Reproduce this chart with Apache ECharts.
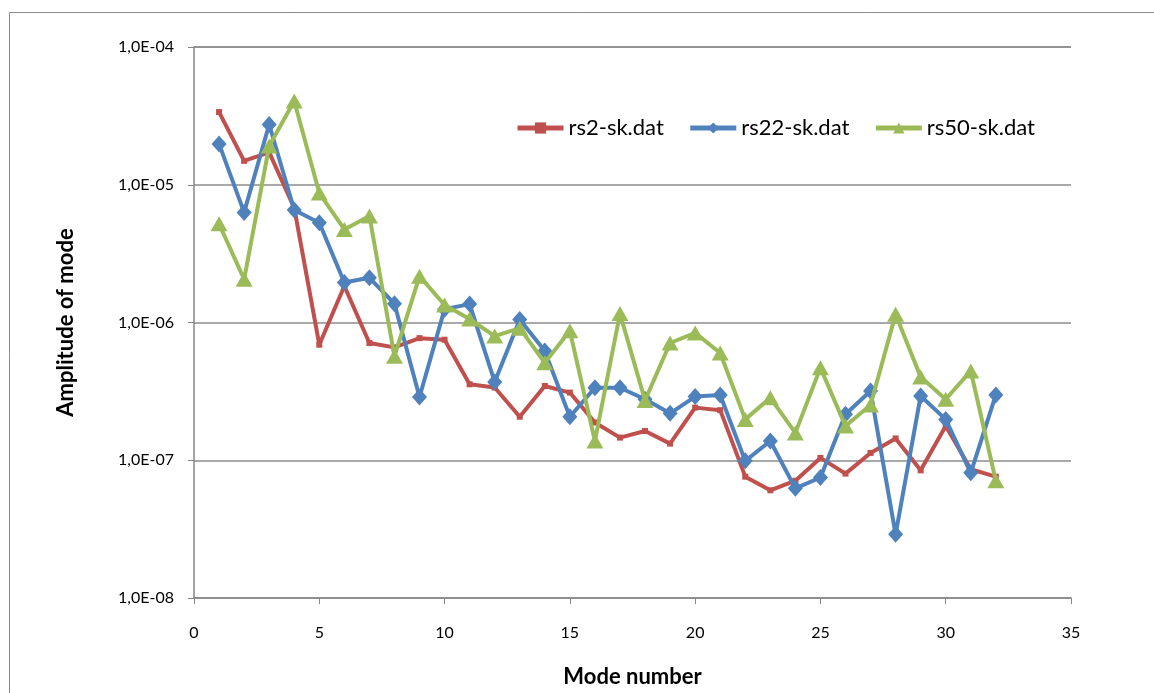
<!DOCTYPE html>
<html>
<head>
<meta charset="utf-8">
<script src="https://cdn.jsdelivr.net/npm/echarts@6/dist/echarts.min.js"></script>
<style>
html,body{margin:0;padding:0;background:#fff;}
#c{width:1154px;height:693px;}
</style>
</head>
<body>
<div id="c"></div>
<script>
const modes = [1,2,3,4,5,6,7,8,9,10,11,12,13,14,15,16,17,18,19,20,21,22,23,24,25,26,27,28,29,30,31,32];
const rs2 = [3.37e-5,1.49e-5,1.72e-5,6.8e-6,6.9e-7,1.84e-6,7.1e-7,6.6e-7,7.7e-7,7.5e-7,3.56e-7,3.37e-7,2.07e-7,3.46e-7,3.1e-7,1.88e-7,1.46e-7,1.63e-7,1.32e-7,2.41e-7,2.31e-7,7.6e-8,6.05e-8,7.1e-8,1.04e-7,8.0e-8,1.13e-7,1.44e-7,8.45e-8,1.77e-7,8.6e-8,7.6e-8];
const rs22 = [1.98e-5,6.3e-6,2.74e-5,6.55e-6,5.3e-6,1.95e-6,2.11e-6,1.37e-6,2.88e-7,1.25e-6,1.36e-6,3.7e-7,1.05e-6,6.2e-7,2.07e-7,3.36e-7,3.36e-7,2.77e-7,2.19e-7,2.9e-7,2.98e-7,9.9e-8,1.38e-7,6.25e-8,7.5e-8,2.16e-7,3.18e-7,2.9e-8,2.93e-7,1.98e-7,8.1e-8,2.98e-7];
const rs50 = [5.2e-6,2.06e-6,1.91e-5,4.05e-5,8.7e-6,4.74e-6,5.93e-6,5.7e-7,2.17e-6,1.34e-6,1.06e-6,7.97e-7,9.1e-7,5.1e-7,8.7e-7,1.38e-7,1.16e-6,2.72e-7,7.1e-7,8.4e-7,6.0e-7,1.98e-7,2.84e-7,1.58e-7,4.7e-7,1.77e-7,2.52e-7,1.15e-6,4.02e-7,2.77e-7,4.45e-7,7.1e-8];
const seriesNames = ['rs2-sk.dat','rs22-sk.dat','rs50-sk.dat'];
const xTicks = [0,5,10,15,20,25,30,35];

const pair = arr => modes.map((m,i)=>[m,arr[i]]);
const font = 'Lato, "Open Sans", sans-serif';
const chart = echarts.init(document.getElementById('c'), null, {renderer:'canvas'});
function fmtY(v){
  const e = Math.round(Math.log10(v));
  const s = e < 0 ? '-' : '+';
  const a = Math.abs(e);
  return '1,0E' + s + (a<10?'0':'') + a;
}
chart.setOption({
  animation:false,
  backgroundColor:'#fff',
  graphic:[{type:'rect',shape:{x:9.5,y:12.5,width:1160,height:700},style:{fill:'none',stroke:'#8c8c8c',lineWidth:1},silent:true}],
  grid:{left:194,right:83,top:47,bottom:95,containLabel:false},
  legend:{
    left:510, top:112, itemWidth:46, itemHeight:14, itemGap:24,
    lineStyle:{width:5},
    textStyle:{fontSize:22,color:'#000',fontFamily:font},
    data:seriesNames
  },
  xAxis:{
    type:'value', min:0, max:35, interval:5,
    axisLine:{lineStyle:{color:'#868686',width:1.5}},
    axisTick:{show:true,length:6,lineStyle:{color:'#868686'}},
    axisLabel:{fontSize:16,color:'#000',fontFamily:font,margin:27},
    splitLine:{show:false},
    name:'Mode number', nameLocation:'middle', nameGap:68,
    nameTextStyle:{fontSize:22,fontWeight:'bold',color:'#000',fontFamily:font}
  },
  yAxis:{
    type:'log', logBase:10, min:1e-8, max:1e-4,
    axisLine:{show:true,lineStyle:{color:'#868686',width:1.5}},
    axisTick:{show:true,length:6,inside:false,lineStyle:{color:'#868686'}},
    minorTick:{show:false},
    axisLabel:{fontSize:16,color:'#000',fontFamily:font,margin:20,formatter:fmtY},
    splitLine:{show:true,lineStyle:{color:'#8c8c8c',width:1.5}},
    name:'Amplitude of mode', nameLocation:'middle', nameGap:117, nameRotate:90,
    nameTextStyle:{fontSize:22,fontWeight:'bold',color:'#000',fontFamily:font}
  },
  series:[
    {name:seriesNames[0],type:'line',data:pair(rs2),symbol:'rect',symbolSize:6,
     lineStyle:{color:'#C0504D',width:4},itemStyle:{color:'#C0504D'},z:2},
    {name:seriesNames[1],type:'line',data:pair(rs22),symbol:'diamond',symbolSize:[15,17],
     lineStyle:{color:'#4F81BD',width:4},itemStyle:{color:'#4F81BD'},z:3},
    {name:seriesNames[2],type:'line',data:pair(rs50),symbol:'triangle',symbolSize:[17,15],
     lineStyle:{color:'#9BBB59',width:4},itemStyle:{color:'#9BBB59'},z:4}
  ]
});
</script>
</body>
</html>
